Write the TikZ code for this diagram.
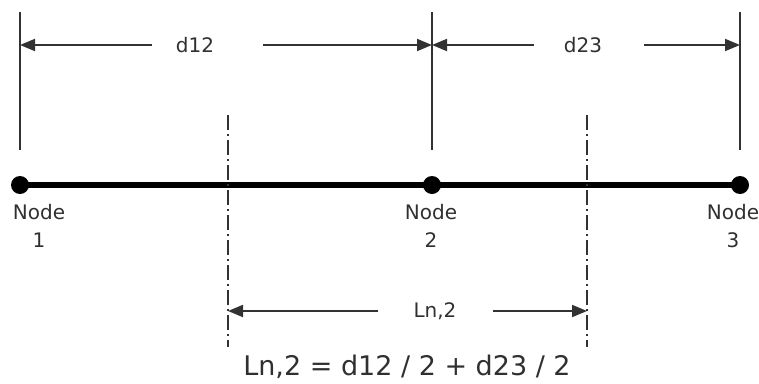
\documentclass[tikz,border=0pt]{standalone}
\usepackage{fontspec}
\setmainfont{DejaVu Sans}
\usepackage{xcolor}
\definecolor{dimGray}{RGB}{50, 50, 50}
\definecolor{txtGray}{RGB}{48, 48, 48}
\usepackage{tikz}
\usetikzlibrary{
    arrows.meta,
    positioning,
    calc
}

\begin{document}
\begin{tikzpicture}[
    x=1pt, y=-1pt,
    nodeDot/.style={
        circle, fill=black, inner sep=0pt, minimum size=18pt
    },
    nodeLabel/.style={
        font=\fontsize{20}{28}\selectfont, text=txtGray, align=center
    },
    dimLabel/.style={
        font=\fontsize{20}{24}\selectfont, text=txtGray, inner xsep=0pt
    },
    extLine/.style={
        draw=dimGray, line width=1.8pt
    },
    axisLine/.style={
        draw=dimGray, line width=1.6pt,
        dash pattern=on 15pt off 4pt on 2pt off 4pt
    },
    dimArrow/.style={
        -{Triangle[length=15pt, width=12pt]}, line width=1.8pt, draw=dimGray
    },
    beamLine/.style={
        draw=black, line width=5.5pt
    }
]
    \useasboundingbox (0,0) rectangle (759,383);

    % Nodes on the beam
    \node[nodeDot] (n1) at (20,185) {};
    \node[nodeDot] (n2) at (432,185) {};
    \node[nodeDot] (n3) at (740,185) {};
    \draw[beamLine] (n1.center) -- (n2.center) -- (n3.center);

    \node[nodeLabel] (lab1) at (39,226) {Node\\1};
    \node[nodeLabel] (lab2) at (431,226) {Node\\2};
    \node[nodeLabel] (lab3) at (733,226) {Node\\3};

    % Extension lines above the nodes
    \coordinate (t1) at (20,12);
    \coordinate (t2) at (432,12);
    \coordinate (t3) at (740,12);
    \coordinate (b1) at (20,150);
    \coordinate (b2) at (432,150);
    \coordinate (b3) at (740,150);
    \draw[extLine] (t1) -- (b1);
    \draw[extLine] (t2) -- (b2);
    \draw[extLine] (t3) -- (b3);

    % Mid-span axis lines
    \coordinate (m1t) at (228,115);
    \coordinate (m1b) at (228,347);
    \coordinate (m2t) at (587,115);
    \coordinate (m2b) at (587,347);
    \draw[axisLine] (m1t) -- (m1b);
    \draw[axisLine] (m2t) -- (m2b);

    % Dimensions between nodes
    \node[dimLabel] (d12) at (195,45) {d12};
    \node[dimLabel] (d23) at (583,45) {d23};
    \draw[dimArrow] ([xshift=-24pt]d12.west) -- (d12 -| t1);
    \draw[dimArrow] ([xshift=49pt]d12.east) -- (d12 -| t2);
    \draw[dimArrow] ([xshift=-30pt]d23.west) -- (d23 -| t2);
    \draw[dimArrow] ([xshift=42pt]d23.east) -- (d23 -| t3);

    % Tributary length of node 2
    \node[dimLabel] (ln2) at (435,311) {Ln,2};
    \draw[dimArrow] ([xshift=-35pt]ln2.west) -- (ln2 -| m1t);
    \draw[dimArrow] ([xshift=36pt]ln2.east) -- (ln2 -| m2t);

    \node[font=\fontsize{27}{32}\selectfont, text=txtGray, inner sep=0pt] (formula) at (407,367) {Ln,2 = d12 / 2 + d23 / 2};

\end{tikzpicture}
\end{document}
